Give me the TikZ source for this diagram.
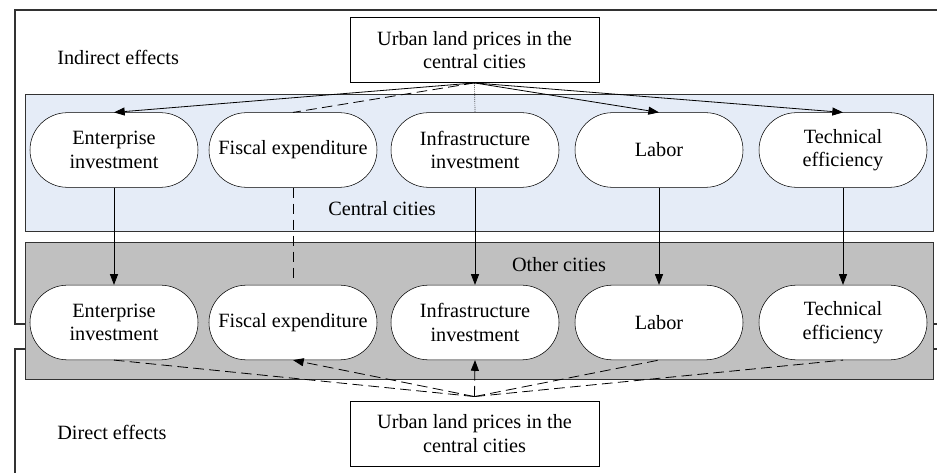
\documentclass[tikz,border=0pt]{standalone}
\usepackage{fontspec}
\setmainfont{Liberation Serif}
\usetikzlibrary{arrows.meta}
\definecolor{cblue}{RGB}{229,236,247}
\definecolor{cgray}{RGB}{192,192,192}
\definecolor{cframe}{RGB}{50,50,50}
\tikzset{
  txt/.style={font=\fontsize{15.2}{17.5}\selectfont},
  pill/.style={txt, draw=black, fill=white, rounded corners=28pt, minimum width=126pt, minimum height=56pt, align=center, inner sep=1pt},
  pricebox/.style={txt, draw=black, fill=white, minimum width=187pt, minimum height=49pt, align=center},
  lbl/.style={txt, inner sep=0pt},
  arr/.style={-{Triangle[length=8pt,width=6pt]}, line width=0.6pt},
  dashln/.style={dash pattern=on 8pt off 4pt, line width=0.6pt},
}
\begin{document}
\begin{tikzpicture}[x=0.75pt,y=-0.75pt]
\useasboundingbox (0,0) rectangle (937,473);
\clip (0,0) rectangle (937,473);
\fill[white] (0,0) rectangle (937,473);
% frames
\draw[cframe, line width=0.8pt] (15,10) rectangle (960,324);
\draw[cframe, line width=0.8pt] (15,349) rectangle (960,490);
% regions
\draw[cframe, fill=cblue, line width=0.6pt] (25,94) rectangle (933,231);
\draw[cframe, fill=cgray, line width=0.6pt] (25,242) rectangle (933,379);
\node[lbl] (cc) at (382,209) {Central cities};
\node[lbl] (oc) at (559,265) {Other cities};
\node[lbl, anchor=west] (ind) at (57,57) {Indirect effects};
\node[lbl, anchor=west] (dir) at (57,432) {Direct effects};
% price boxes
\node[pricebox] (ptop) at (474.5,50) {Urban land prices in the\\central cities};
\node[pricebox] (pbot) at (474.5,433.5) {Urban land prices in the\\central cities};
% top row
\node[pill] (a1) at (114,150) {Enterprise\\investment};
\node[pill] (b1) at (293,150) {Fiscal expenditure};
\node[pill] (c1) at (475,150) {Infrastructure\\investment};
\node[pill] (d1) at (659,150) {Labor};
\node[pill] (e1) at (843,150) {Technical\\efficiency};
% bottom row
\node[pill] (a2) at (114,322.5) {Enterprise\\investment};
\node[pill] (b2) at (293,322.5) {Fiscal expenditure};
\node[pill] (c2) at (475,322.5) {Infrastructure\\investment};
\node[pill] (d2) at (659,322.5) {Labor};
\node[pill] (e2) at (843,322.5) {Technical\\efficiency};
% indirect arrows
\draw[arr] (ptop.south) -- (a1.north);
\draw[dashln] (ptop.south) -- (b1.north);
\draw[densely dotted, line width=0.5pt] (ptop.south) -- (c1.north);
\draw[arr] (ptop.south) -- (d1.north);
\draw[arr] (ptop.south) -- (e1.north);
% vertical
\draw[arr] (a1.south) -- (a2.north);
\draw[dashln] (b1.south) -- ([yshift=3pt]b2.north);
\draw[arr] (c1.south) -- (c2.north);
\draw[arr] (d1.south) -- (d2.north);
\draw[arr] (e1.south) -- (e2.north);
% direct
\coordinate (pb) at ([yshift=3pt]pbot.north);
\draw[dashln] (pb) -- (a2.south);
\draw[dashln, -{Triangle[length=8pt,width=6pt]}] (pb) -- (b2.south);
\draw[dashln, -{Triangle[length=8pt,width=6pt]}] (pb) -- (c2.south);
\draw[dashln] (pb) -- (d2.south);
\draw[dashln] (pb) -- (e2.south);
\end{tikzpicture}
\end{document}
